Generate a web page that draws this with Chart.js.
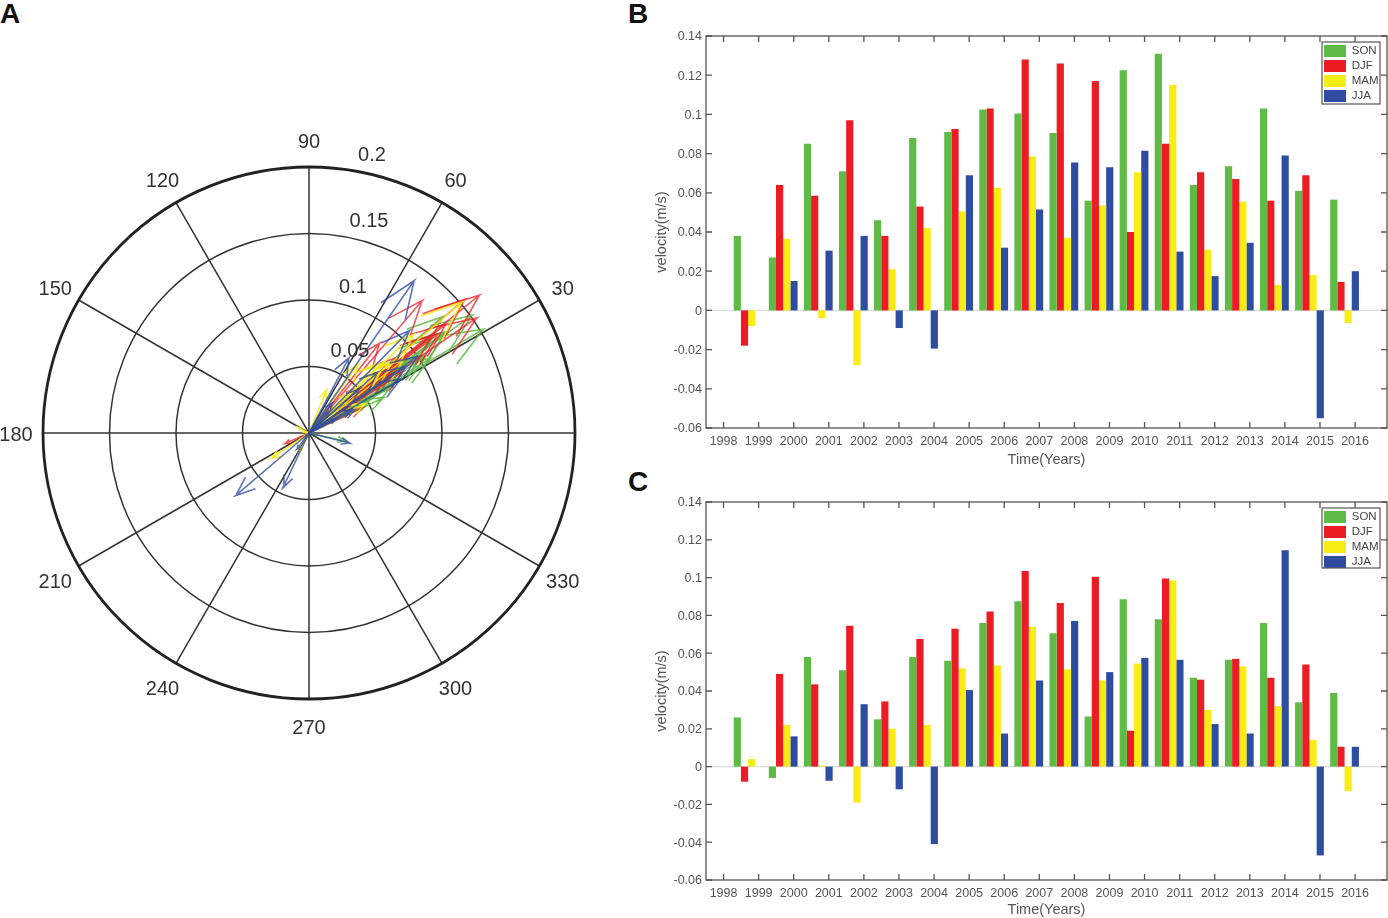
<!DOCTYPE html>
<html>
<head>
<meta charset="utf-8">
<title>Seasonal velocity</title>
<script src="https://cdn.jsdelivr.net/npm/chart.js@4"></script>
<style>
html,body{margin:0;padding:0;background:#fff;width:1388px;height:918px;overflow:hidden}
canvas{position:absolute;filter:blur(.45px)}
.p{position:absolute;font:bold 28px "Liberation Sans",Arial,sans-serif;color:#111;line-height:28px}
</style>
</head>
<body>
<div class="p" style="left:0;top:0">A</div>
<div class="p" style="left:628px;top:0">B</div>
<div class="p" style="left:628px;top:468px">C</div>
<canvas id="a" width="618" height="618" style="left:0;top:124px;filter:blur(.6px)"></canvas>
<canvas id="b" width="735" height="448" style="left:653px;top:21px"></canvas>
<canvas id="c" width="735" height="432" style="left:653px;top:487px"></canvas>
<script>
const years = [1998,1999,2000,2001,2002,2003,2004,2005,2006,2007,2008,2009,2010,2011,2012,2013,2014,2015];
const xTickYears = [1998,1999,2000,2001,2002,2003,2004,2005,2006,2007,2008,2009,2010,2011,2012,2013,2014,2015,2016];
const yTicks = [-0.06,-0.04,-0.02,0,0.02,0.04,0.06,0.08,0.1,0.12,0.14];
const seasons = ['SON','DJF','MAM','JJA'];

const sonB = [.038,.027,.085,.071,.046,.088,.091,.1025,.1005,.0905,.056,.1225,.131,.064,.0735,.103,.061,.0565];
const djfB = [-.018,.064,.0585,.097,.038,.053,.0925,.103,.128,.126,.117,.04,.085,.0705,.067,.056,.069,.0145];
const mamB = [-.008,.0365,-.004,-.028,.021,.042,.0505,.0625,.0785,.037,.0535,.0705,.115,.031,.0555,.013,.018,-.0065];
const jjaB = [0,.015,.0305,.038,-.009,-.0195,.069,.032,.0515,.0755,.073,.0815,.03,.0175,.0345,.079,-.055,.02];

const sonC = [.026,-.006,.058,.051,.025,.058,.056,.076,.0875,.0705,.0265,.0885,.078,.047,.0565,.076,.034,.039];
const djfC = [-.008,.049,.0435,.0745,.0345,.0675,.073,.082,.1035,.0865,.1005,.019,.0995,.046,.057,.047,.054,.0105];
const mamC = [.004,.022,.0005,-.019,.02,.022,.052,.0535,.074,.0515,.0455,.0545,.0985,.03,.053,.032,.014,-.013];
const jjaC = [0,.016,-.0075,.033,-.012,-.041,.0405,.0175,.0455,.077,.05,.0575,.0565,.0225,.0175,.1145,-.047,.0105];

const ringValues = [0.05,0.1,0.15,0.2];
const spokeAngles = [0,30,60,90,120,150,180,210,240,270,300,330];
const angleLabels = [90,60,30,330,300,270,240,210,180,150,120];

const colors = ['#5fbb46','#ed1c24','#f7ec13','#2e4da0'];
const FONT = '"Liberation Sans",Arial,sans-serif';
const GREY = '#555';

/* ---------- bar panels ---------- */
const framePlugin = {
  id:'frame',
  beforeDatasetsDraw(chart,_,o){
    const {ctx,chartArea:a,scales:{x,y}} = chart;
    ctx.save();
    ctx.strokeStyle='#ddd';ctx.lineWidth=1.2;
    const z=y.getPixelForValue(0);
    ctx.beginPath();ctx.moveTo(a.left,z);ctx.lineTo(a.right,z);ctx.stroke();
    ctx.restore();
  },
  afterDatasetsDraw(chart,_,o){
    const {ctx,chartArea:a,scales:{x,y}} = chart;
    ctx.save();
    ctx.strokeStyle=GREY;ctx.lineWidth=1.3;
    ctx.strokeRect(a.left,a.top,a.right-a.left,a.bottom-a.top);
    ctx.beginPath();
    xTickYears.forEach(v=>{const p=x.getPixelForValue(v);
      ctx.moveTo(p,a.bottom);ctx.lineTo(p,a.bottom-6);ctx.moveTo(p,a.top);ctx.lineTo(p,a.top+6);});
    yTicks.forEach(v=>{const p=y.getPixelForValue(v);
      ctx.moveTo(a.left,p);ctx.lineTo(a.left+6,p);ctx.moveTo(a.right,p);ctx.lineTo(a.right-6,p);});
    ctx.stroke();
    ctx.lineWidth=1.2;
    ctx.strokeRect(o.boxLeft,o.boxTop,o.boxWidth,o.boxHeight);
    ctx.restore();
  },
  afterLayout(chart,_,o){
    const l=chart.legend; if(!l) return;
    l.left=o.boxLeft-1; l.top=o.boxTop; l.right=o.boxLeft+o.boxWidth; l.bottom=o.boxTop+200;
  }
};

function barPanel(id,series,bottomH,topPad,box){
  new Chart(document.getElementById(id),{
    type:'bar',
    data:{datasets:series.map((s,i)=>({
      label:seasons[i],
      data:years.map((yr,j)=>({x:yr+0.7,y:s[j]})),
      backgroundColor:colors[i],borderWidth:0
    }))},
    plugins:[framePlugin],
    options:{
      responsive:false,animation:false,devicePixelRatio:1,
      layout:{padding:{top:topPad,right:1,left:0,bottom:0}},
      datasets:{bar:{categoryPercentage:.82,barPercentage:1}},
      plugins:{
        frame:box,
        tooltip:{enabled:false},
        legend:{position:'chartArea',align:'start',
          labels:{boxWidth:22,boxHeight:12,padding:3,color:'#444',font:{family:FONT,size:11.5}}}
      },
      scales:{
        x:{type:'linear',min:1997.5,max:2016.91,offset:false,
          afterBuildTicks(s){s.ticks=xTickYears.map(v=>({value:v}));},
          afterFit(s){s.height=bottomH;},
          border:{display:false},grid:{display:false,drawTicks:false},
          ticks:{autoSkip:false,maxRotation:0,padding:6,color:GREY,font:{family:FONT,size:12.5},callback:v=>String(v)},
          title:{display:true,text:'Time(Years)',color:GREY,padding:0,font:{family:FONT,size:14.5}}},
        y:{min:-0.06,max:0.14,
          afterBuildTicks(s){s.ticks=yTicks.map(v=>({value:v}));},
          afterFit(s){s.width=53;},
          border:{display:false},grid:{display:false,drawTicks:false},
          ticks:{padding:4,labelOffset:1,color:GREY,font:{family:FONT,size:12.5},callback:v=>String(v)},
          title:{display:true,text:'velocity(m/s)',color:GREY,padding:0,font:{family:FONT,size:14.5}}}
      }
    }
  });
}
barPanel('b',[sonB,djfB,mamB,jjaB],41,15,{boxLeft:669,boxTop:21,boxWidth:58,boxHeight:62});
barPanel('c',[sonC,djfC,mamC,jjaC],39,15,{boxLeft:669,boxTop:21,boxWidth:58,boxHeight:60});

/* ---------- compass panel ---------- */
const uSeries=[sonB,djfB,mamB,jjaB], vSeries=[sonC,djfC,mamC,jjaC];
const arrowAlpha=['rgba(95,187,70,.85)','rgba(237,28,36,.75)','rgba(247,236,19,.88)','rgba(46,77,160,.78)'];
function arrowPath(u,v){
  const len=Math.hypot(u,v), c=u/len||0, s=v/len||0;
  const pt=(a,b)=>({x:len*(a*c-b*s),y:len*(a*s+b*c)});
  return [pt(0,0),pt(1,0),pt(.8,.08),pt(1,0),pt(.8,-.08)];
}
const arrowSets=[];
uSeries.forEach((us,i)=>us.forEach((u,j)=>{
  const v=vSeries[i][j];
  if(u===0&&v===0) return;
  arrowSets.push({label:seasons[i]+' '+years[j],data:arrowPath(u,v),showLine:true,
    borderColor:arrowAlpha[i],borderWidth:1.6,pointRadius:0,tension:0,order:-i});
}));
const compassGrid={
  id:'compassGrid',
  beforeDatasetsDraw(chart){
    const {ctx,scales:{x,y}}=chart;
    const cx=x.getPixelForValue(0),cy=y.getPixelForValue(0);
    const R=x.getPixelForValue(ringValues[3])-cx;
    ctx.save();
    ctx.strokeStyle='#333';ctx.lineWidth=1.5;
    spokeAngles.forEach(a=>{const t=a*Math.PI/180;
      ctx.beginPath();ctx.moveTo(cx,cy);ctx.lineTo(cx+R*Math.cos(t),cy-R*Math.sin(t));ctx.stroke();});
    ringValues.forEach((r,i)=>{
      ctx.beginPath();ctx.arc(cx,cy,x.getPixelForValue(r)-cx,0,2*Math.PI);
      ctx.lineWidth=i===3?2.8:1.5;ctx.strokeStyle=i===3?'#222':'#333';ctx.stroke();});
    ctx.restore();
  },
  afterDatasetsDraw(chart){
    const {ctx,scales:{x,y}}=chart;
    const cx=x.getPixelForValue(0),cy=y.getPixelForValue(0);
    const R=x.getPixelForValue(ringValues[3])-cx;
    ctx.save();
    ctx.fillStyle='#333';ctx.textAlign='center';ctx.textBaseline='middle';
    ctx.font='20px '+FONT;
    angleLabels.forEach(a=>{const t=a*Math.PI/180,r=R+27;
      ctx.fillText(String(a),cx+r*Math.cos(t),cy-r*Math.sin(t)+2.5);});
    const dx=[41,44,60,63],dy=[15,13,12,12];
    ringValues.forEach((r,i)=>{
      const ry=cy-(x.getPixelForValue(r)-cx);
      ctx.fillText(String(r),cx+dx[i],ry-dy[i]);});
    ctx.restore();
  }
};
const span=309/1330;
new Chart(document.getElementById('a'),{
  type:'scatter',
  data:{datasets:arrowSets},
  plugins:[compassGrid],
  options:{
    responsive:false,animation:false,devicePixelRatio:1,
    layout:{padding:0},
    plugins:{legend:{display:false},tooltip:{enabled:false}},
    scales:{
      x:{type:'linear',min:-span,max:span,display:false},
      y:{type:'linear',min:-span,max:span,display:false}
    }
  }
});
</script>
</body>
</html>
